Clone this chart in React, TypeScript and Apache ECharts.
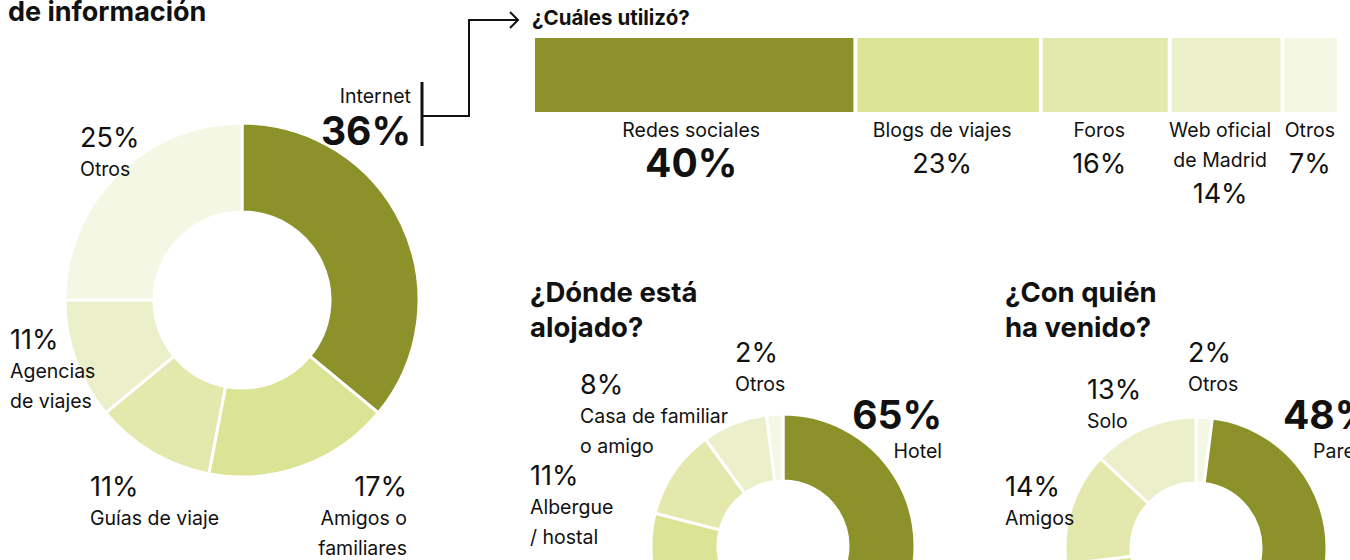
import React, { useEffect, useRef } from "react";
import * as echarts from "echarts";

// ---------- data ----------
const infoNames = ["Internet", "Amigos o\nfamiliares", "Guías de viaje", "Agencias\nde viajes", "Otros"];
const infoValues = [36, 17, 11, 11, 25];

const usedNames = ["Redes sociales", "Blogs de viajes", "Foros", "Web oficial\nde Madrid", "Otros"];
const usedValues = [40, 23, 16, 14, 7];

const stayNames = ["Hotel", "Apartamento", "Albergue\n/ hostal", "Casa de familiar\no amigo", "Otros"];
const stayValues = [65, 14, 11, 8, 2];

const companyNames = ["Otros", "Pareja", "Familia", "Amigos", "Solo"];
const companyValues = [2, 48, 23, 14, 13];

const titles = ["de información", "¿Cuáles utilizó?", "¿Dónde está\nalojado?", "¿Con quién\nha venido?"];

// ---------- styles ----------
const FONT = "Inter, 'Noto Sans', sans-serif";
const INK = "#111111";
const OLIVE = "#8d9129";
const C1 = "#dbe394";
const C2 = "#e3e9ad";
const C3 = "#ebf0ca";
const C4 = "#f4f7e3";

const infoColors = [OLIVE, C1, C2, C3, C4];
const usedColors = [OLIVE, C1, C2, C3, C4];
const stayColors = [OLIVE, C1, C2, C3, C4];
const companyColors = [C4, OLIVE, C1, C2, C3];
const usedLabelShift = [-3, -6, -6, -6, -1];

function txt(x: number, y: number, text: string, size: number, align = "left", bold = false) {
  return {
    type: "text",
    x,
    y,
    z: 100,
    silent: true,
    style: {
      text,
      fontSize: size,
      fontFamily: FONT,
      fontWeight: bold ? 700 : 400,
      fill: INK,
      align,
      textAlign: align,
      verticalAlign: "middle",
      textVerticalAlign: "middle",
    },
  };
}

// percent on top, name lines below
function block(x: number, y: number, value: number, name: string, align = "left") {
  const out: any[] = [txt(x, y, `${value}%`, 27, align)];
  name.split("\n").forEach((line, i) => out.push(txt(x, y + 32 + i * 30, line, 19.5, align)));
  return out;
}

// big bold percent, name below
function bigBlock(x: number, y: number, value: number, name: string, align = "left", nameX = x) {
  return [txt(x, y, `${value}%`, 39, align, true), txt(nameX, y + 37, name, 19.5, align)];
}

function pie(center: number[], radius: number[], names: string[], values: number[], colors: string[]) {
  return {
    type: "pie",
    center,
    radius,
    startAngle: 90,
    clockwise: true,
    silent: true,
    z: 1,
    label: { show: false },
    labelLine: { show: false },
    itemStyle: { borderColor: "#ffffff", borderWidth: 3 },
    data: values.map((v, i) => ({ name: names[i].replace("\n", " "), value: v, itemStyle: { color: colors[i] } })),
  };
}

export default function App() {
  const ref = useRef<HTMLDivElement>(null);

  useEffect(() => {
    document.body.style.margin = "0";
    const chart = echarts.init(ref.current!, null, { renderer: "svg" });

    const barSeries = usedValues.map((v, i) => ({
      type: "bar",
      stack: "used",
      name: usedNames[i],
      barWidth: "100%",
      silent: true,
      itemStyle: { color: usedColors[i], borderColor: "#ffffff", borderWidth: 2 },
      label: {
        show: true,
        position: "bottom",
        distance: 1,
        offset: [usedLabelShift[i], 0],
        align: "center",
        fontFamily: FONT,
        color: INK,
        formatter: () => {
          const lines = usedNames[i].split("\n").map((l) => `{n|${l}}`).join("\n");
          return i === 0 ? `${lines}\n{b|${v}%}` : `${lines}\n{p|${v}%}`;
        },
        rich: {
          n: { fontSize: 19.5, lineHeight: 30, fontFamily: FONT, color: INK, align: "center" },
          p: { fontSize: 27, lineHeight: 36, fontFamily: FONT, color: INK, align: "center" },
          b: { fontSize: 39, lineHeight: 34, fontFamily: FONT, fontWeight: 700, color: INK, align: "center" },
        },
      },
      data: [v],
    }));

    const graphics: any[] = [
      // titles
      txt(8, 11, titles[0], 27, "left", true),
      txt(532, 17, titles[1], 20.5, "left", true),
      ...titles[2].split("\n").map((l, i) => txt(530, 292 + i * 35, l, 27.5, "left", true)),
      ...titles[3].split("\n").map((l, i) => txt(1005, 292 + i * 35, l, 27.5, "left", true)),
      // bracket + arrow
      { type: "line", z: 100, silent: true, shape: { x1: 422, y1: 82, x2: 422, y2: 146 }, style: { stroke: INK, lineWidth: 3 } },
      {
        type: "polyline",
        z: 100,
        silent: true,
        shape: { points: [[422, 116], [469, 116], [469, 20], [518, 20]] },
        style: { stroke: INK, lineWidth: 2, fill: "none" },
      },
      {
        type: "polyline",
        z: 100,
        silent: true,
        shape: { points: [[510, 12], [518, 20], [510, 28]] },
        style: { stroke: INK, lineWidth: 2, fill: "none" },
      },
      // donut 1 labels
      txt(411, 96, infoNames[0], 19.5, "right"),
      txt(411, 130, `${infoValues[0]}%`, 39, "right", true),
      ...block(80, 137, infoValues[4], infoNames[4]),
      ...block(10, 339, infoValues[3], infoNames[3]),
      ...block(90, 486, infoValues[2], infoNames[2]),
      ...block(407, 486, infoValues[1], infoNames[1], "right"),
      // donut 2 labels
      ...bigBlock(942, 414, stayValues[0], stayNames[0], "right"),
      ...block(530, 475, stayValues[2], stayNames[2]),
      ...block(580, 384, stayValues[3], stayNames[3]),
      ...block(735, 352, stayValues[4], stayNames[4]),
      // donut 3 labels
      ...block(1188, 352, companyValues[0], companyNames[0]),
      ...bigBlock(1283, 414, companyValues[1], companyNames[1], "left", 1313),
      ...block(1005, 486, companyValues[3], companyNames[3]),
      ...block(1087, 389, companyValues[4], companyNames[4]),
    ];

    chart.setOption({
      animation: false,
      backgroundColor: "#ffffff",
      grid: { left: 533, top: 36, width: 806, height: 78 },
      xAxis: { type: "value", min: 0, max: 100, show: false },
      yAxis: { type: "category", data: ["uso"], show: false },
      series: [
        pie([242, 300], [88, 177], infoNames, infoValues, infoColors),
        pie([783, 546], [65, 132], stayNames, stayValues, stayColors),
        pie([1196, 548], [65, 131], companyNames, companyValues, companyColors),
        ...barSeries,
      ],
      graphic: { elements: graphics },
    });

    return () => chart.dispose();
  }, []);

  return <div ref={ref} style={{ position: "absolute", left: 0, top: 0, width: 1350, height: 560 }} />;
}
